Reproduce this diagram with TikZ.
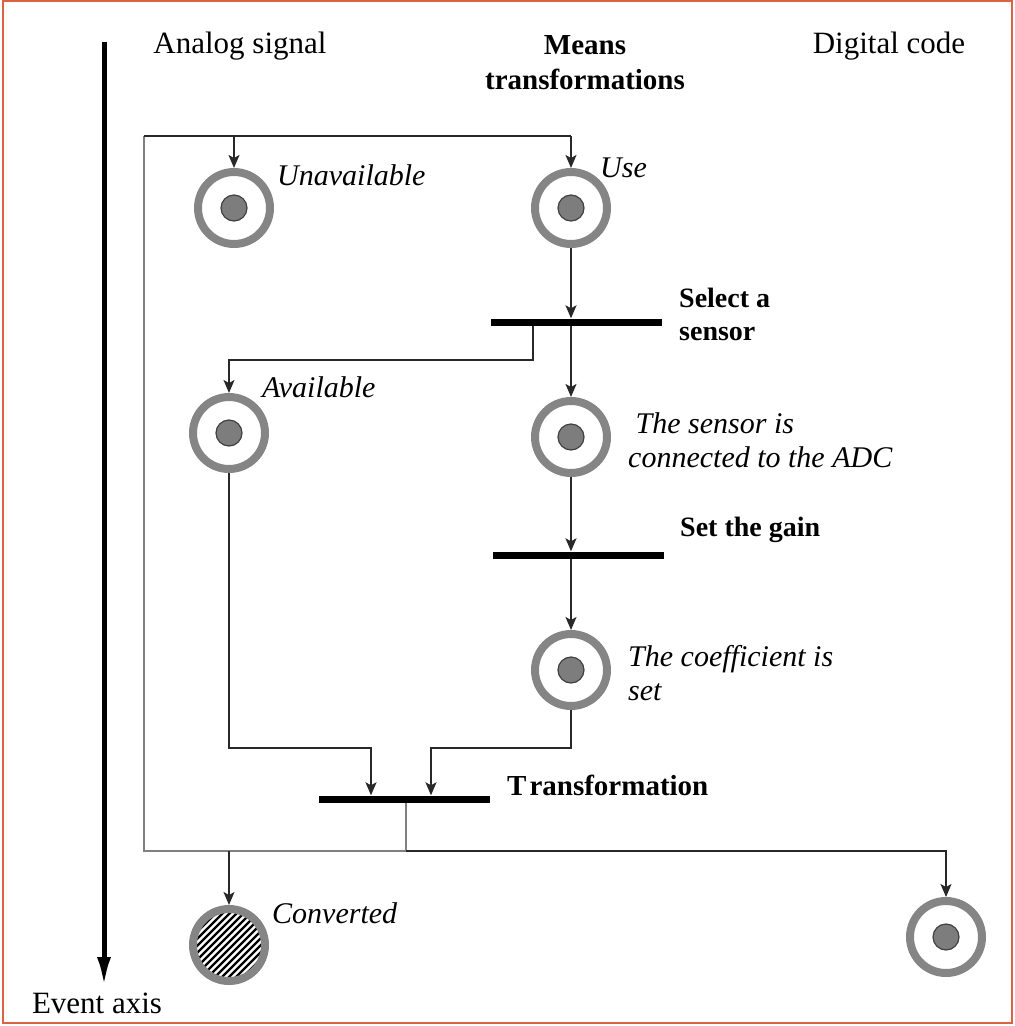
\documentclass[tikz,border=0pt]{standalone}
\usepackage{fontspec}
\setmainfont{Liberation Serif}
\usetikzlibrary{arrows.meta}
\definecolor{ringgray}{RGB}{133,133,133}
\definecolor{dotgray}{RGB}{125,125,125}
\definecolor{linecol}{RGB}{40,40,40}
\definecolor{graylin}{RGB}{128,128,128}
\definecolor{framecol}{RGB}{219,99,67}
\tikzset{
  place/.style={circle, draw=ringgray, line width=8pt, minimum size=72pt, inner sep=0pt, fill=white,
    path picture={\fill[dotgray, draw=black!75, line width=1.2pt] (path picture bounding box.center) circle (13pt);}},
  doneplace/.style={circle, draw=ringgray, line width=8pt, minimum size=72pt, inner sep=0pt, fill=white,
    path picture={\foreach \k in {-66,-59,...,66} \draw[black, line width=2.3pt] ([shift={(\k pt-60pt,-60pt)}]path picture bounding box.center) -- ++(120pt,120pt);}},
  bar/.style={rectangle, fill=black, minimum width=171pt, minimum height=7pt, inner sep=0pt},
  conn/.style={draw=linecol, line width=1.5pt},
  grayconn/.style={draw=graylin, line width=1.6pt},
  arr/.style={conn, -{Stealth[length=13pt,width=11pt,inset=3pt]}},
  plain/.style={font=\fontsize{31}{35}\selectfont, inner sep=0pt},
  state/.style={font=\fontsize{30}{34}\selectfont\itshape, inner sep=0pt, anchor=west, align=left},
  trans/.style={font=\fontsize{28}{33}\selectfont\bfseries, inner sep=0pt, anchor=west, align=left},
}
\begin{document}
\begin{tikzpicture}[x=1pt,y=-1pt]
\useasboundingbox (0,0) rectangle (1015,1026);
\draw[framecol, line width=1.5pt] (3,1) rectangle (1012,1023);

% headers
\node[plain] (hA) at (240,46) {Analog signal};
\node[plain, font=\fontsize{29}{35}\selectfont\bfseries, align=center] (hM) at (585,63) {Means\\transformations};
\node[plain] (hD) at (889,46) {Digital code};
\node[plain] (hE) at (97,1003) {Event axis};

% event axis
\coordinate (ea1) at (104,42);
\coordinate (ea2) at (104,987);
\draw[line width=5pt, -{Latex[length=30pt,width=14pt]}] (ea1) -- (ea2);

% places
\node[place] (unav) at (234,208) {};
\node[place] (use) at (571,208) {};
\node[place] (avail) at (229,433) {};
\node[place] (sens) at (571,437) {};
\node[place] (coef) at (571,670) {};
\node[doneplace] (conv) at (229,945) {};
\node[place] (dig) at (946,937) {};

% transitions
\node[bar] (t1) at (576,322) {};
\node[bar] (t2) at (578,555) {};
\node[bar] (t3) at (404,799) {};

% labels
\node[state] (lU) at (277,175) {Unavailable};
\node[state] (lUse) at (600,168) {Use};
\node[state] (lA) at (262,387) {Available};
\node[state] (lS) at (628,440) {\ The sensor is\\connected to the ADC};
\node[state] (lC) at (628,673) {The coefficient is\\set};
\node[state] (lConv) at (272,913) {Converted};
\node[trans] (lt1) at (679,314) {Select a\\sensor};
\node[trans] (lt2) at (680,530) {Set the gain};
\node[trans, font=\fontsize{29}{33}\selectfont\bfseries] (lt3) at (507,785) {T\kern3pt ransformation};

% coordinates
\coordinate (tl) at (144,136);
\coordinate (bl) at (144,851);
\coordinate (o) at (406,851);
\coordinate (b1) at (533,360);
\coordinate (j1) at (371,748);
\coordinate (j2) at (431,748);

% return loop
\draw[grayconn] (t3.south -| o) -- (o) -- (bl) -- (tl);
\draw[conn] (tl) -- (use.north |- tl);
\draw[arr] (unav.north |- tl) -- (unav.north);
\draw[arr] (use.north |- tl) -- (use.north);

% main column
\draw[arr] (use.south) -- (use.south |- t1.north);
\draw[arr] (use.south |- t1.south) -- (sens.north);
\draw[arr] (t1.south -| b1) -- (b1) -| (avail.north);
\draw[arr] (sens.south) -- (sens.south |- t2.north);
\draw[arr] (sens.south |- t2.south) -- (coef.north);

% into transformation
\draw[arr] (avail.south) |- (j1) -- (j1 |- t3.north);
\draw[arr] (coef.south) |- (j2) -- (j2 |- t3.north);

% outputs
\draw[arr] (conv.north |- o) -- (conv.north);
\draw[arr] (o) -| (dig.north);
\end{tikzpicture}
\end{document}
